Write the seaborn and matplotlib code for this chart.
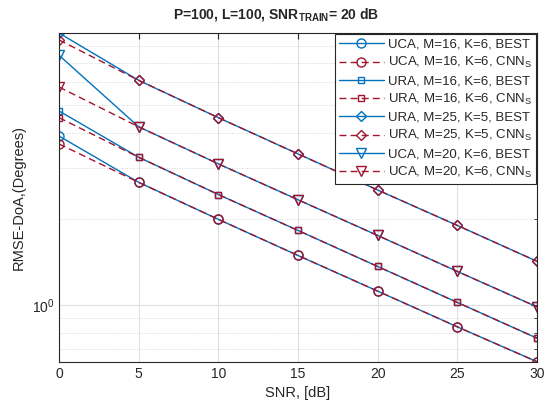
import numpy as np
import pandas as pd
import matplotlib
matplotlib.use("Agg")
import matplotlib.pyplot as plt
import seaborn as sns
from matplotlib.ticker import LogLocator, NullFormatter, FixedLocator

sns.set_style("white")
plt.rcParams['font.family'] = ['Liberation Sans', 'DejaVu Sans']
plt.rcParams['mathtext.fontset'] = 'custom'
plt.rcParams['mathtext.rm'] = 'Liberation Sans'
plt.rcParams['mathtext.it'] = 'Liberation Sans'
plt.rcParams['mathtext.bf'] = 'Liberation Sans:bold'

# data
snr = [0, 5, 10, 15, 20, 25, 30]
uca16_best = [3.89, 2.68, 1.99, 1.488, 1.117, 0.838, 0.633]
uca16_cnn = [3.65, 2.68, 1.99, 1.488, 1.117, 0.838, 0.633]
ura16_best = [4.76, 3.28, 2.43, 1.82, 1.362, 1.02, 0.765]
ura16_cnn = [4.51, 3.28, 2.43, 1.82, 1.362, 1.02, 0.765]
ura25_best = [8.91, 6.09, 4.51, 3.37, 2.52, 1.895, 1.42]
ura25_cnn = [8.43, 6.09, 4.51, 3.37, 2.52, 1.895, 1.42]
uca20_best = [7.45, 4.19, 3.11, 2.33, 1.748, 1.309, 0.984]
uca20_cnn = [5.77, 4.19, 3.11, 2.33, 1.748, 1.309, 0.984]

blue = '#0072BD'
red = '#A2142F'
dash = (0, (5, 3))

series = [
    ('UCA, M=16, K=6, BEST', uca16_best, blue, '-', 'o'),
    ('UCA, M=16, K=6, CNN$_\\mathregular{S}$', uca16_cnn, red, dash, 'o'),
    ('URA, M=16, K=6, BEST', ura16_best, blue, '-', 's'),
    ('URA, M=16, K=6, CNN$_\\mathregular{S}$', ura16_cnn, red, dash, 's'),
    ('URA, M=25, K=5, BEST', ura25_best, blue, '-', 'D'),
    ('URA, M=25, K=5, CNN$_\\mathregular{S}$', ura25_cnn, red, dash, 'D'),
    ('UCA, M=20, K=6, BEST', uca20_best, blue, '-', 'v'),
    ('UCA, M=20, K=6, CNN$_\\mathregular{S}$', uca20_cnn, red, dash, 'v'),
]

fig = plt.figure(figsize=(5.44, 4.08), dpi=100)
ax = fig.add_axes([0.1085, 0.1135, 0.8785, 0.8055])

for label, vals, col, ls, mk in series:
    df = pd.DataFrame({'snr': snr, 'rmse': vals})
    ms = 5 if mk in ('s', 'D') else 6.5
    sns.lineplot(data=df, x='snr', y='rmse', ax=ax, color=col, linestyle=ls,
                 marker=mk, markersize=ms, markerfacecolor='none',
                 markeredgecolor=col, markeredgewidth=1.0, linewidth=1.0,
                 label=label)

ax.set_yscale('log')
ax.set_xlim(0, 30)
ax.set_ylim(min(uca16_best), max(ura25_best))
ax.set_xticks(snr)
ax.yaxis.set_major_locator(FixedLocator([1.0]))
ax.yaxis.set_minor_locator(LogLocator(base=10, subs=np.arange(2, 10)))
ax.yaxis.set_minor_formatter(NullFormatter())
ax.set_yticklabels(['$10^0$'])

ax.grid(True, which='major', color='#e0e0e0', linewidth=0.8, linestyle='-')
ax.grid(True, which='minor', axis='y', color='#c8c8c8', linewidth=0.6, linestyle=(0, (1, 2)))
ax.tick_params(which='both', direction='in', top=True, right=True, labelsize=10, colors='#262626')
ax.tick_params(which='major', length=4)
ax.tick_params(which='minor', length=2)
for s in ax.spines.values():
    s.set_color('#262626')
    s.set_linewidth(0.8)

ax.set_xlabel('SNR, [dB]', fontsize=10.5, color='#262626')
ax.set_ylabel('RMSE-DoA,(Degrees)', fontsize=10.5, color='#262626')
fig.suptitle('P=100, L=100, SNR$_{\\mathbf{TRAIN}}$= 20 dB', x=0.507, y=0.985,
             va='top', fontsize=10, fontweight='bold')

leg = ax.legend(loc='upper right', fontsize=9.5, handlelength=3.4, borderaxespad=0.1,
                labelspacing=0.35, fancybox=False, framealpha=1, edgecolor='#262626',
                handletextpad=0.3, borderpad=0.3)
leg.get_frame().set_linewidth(0.8)

fig.savefig('out.png', dpi=100)
